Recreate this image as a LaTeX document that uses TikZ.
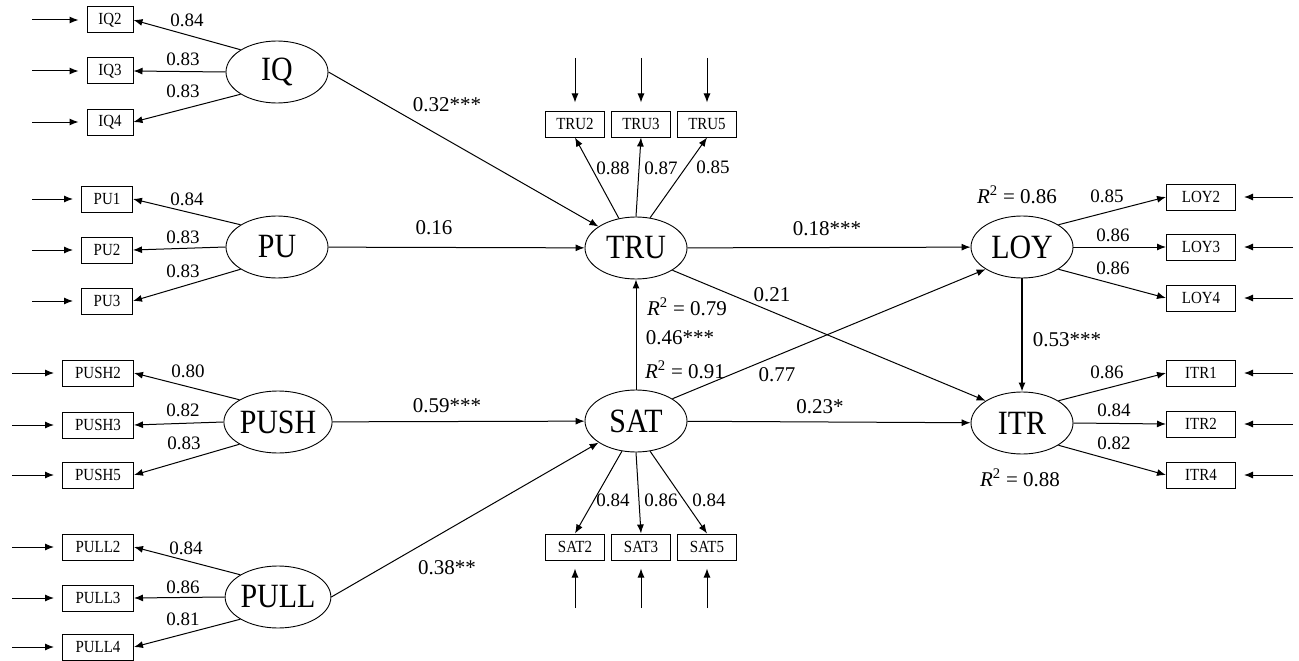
\documentclass[tikz,border=0pt]{standalone}
\usepackage{fontspec}
\setmainfont{Liberation Serif}
\newfontfamily\lat[FakeStretch=0.88]{Liberation Serif}
\usetikzlibrary{shapes.geometric,arrows.meta}
\begin{document}
\begin{tikzpicture}[x=1pt,y=-1pt,
  lv/.style={ellipse,draw,line width=0.9pt,minimum width=102pt,minimum height=62pt,inner sep=0pt,font=\lat\fontsize{34}{34}\selectfont},
  ind/.style={draw,line width=1pt,minimum height=26pt,inner sep=0pt,font=\lat\fontsize{17}{17}\selectfont},
  arr/.style={-{Latex[length=9pt,width=7pt]},line width=1pt},
  inarr/.style={arr,shorten >=8pt},
  ld/.style={font=\fontsize{19}{19}\selectfont},
  pl/.style={font=\fontsize{21}{21}\selectfont},
]
\useasboundingbox (0,0) rectangle (1299,661);

% latent variables
\node[lv] (IQ) at (277,72) {IQ};
\node[lv] (PU) at (277,247) {PU};
\node[lv] (PUSH) at (278,422) {PUSH};
\node[lv] (PULL) at (278,597) {PULL};
\node[lv] (TRU) at (636,248) {TRU};
\node[lv] (SAT) at (636,421) {SAT};
\node[lv] (LOY) at (1022,247) {LOY};
\node[lv] (ITR) at (1022,423) {ITR};

% indicators left
\node[ind,minimum width=46pt] (IQ2) at (110,20) {IQ2};
\node[ind,minimum width=46pt] (IQ3) at (110,71) {IQ3};
\node[ind,minimum width=46pt] (IQ4) at (110,122) {IQ4};
\node[ind,minimum width=51pt] (PU1) at (107,199) {PU1};
\node[ind,minimum width=51pt] (PU2) at (107,250) {PU2};
\node[ind,minimum width=51pt] (PU3) at (107,301) {PU3};
\node[ind,minimum width=71pt] (PUSH2) at (98,373) {PUSH2};
\node[ind,minimum width=71pt] (PUSH3) at (98,425) {PUSH3};
\node[ind,minimum width=71pt] (PUSH5) at (98,475) {PUSH5};
\node[ind,minimum width=71pt] (PULL2) at (98,547) {PULL2};
\node[ind,minimum width=71pt] (PULL3) at (98,598) {PULL3};
\node[ind,minimum width=71pt] (PULL4) at (98,647) {PULL4};
% indicators top/bottom
\node[ind,minimum width=59pt] (TRU2) at (575,124) {TRU2};
\node[ind,minimum width=59pt] (TRU3) at (641,124) {TRU3};
\node[ind,minimum width=59pt] (TRU5) at (707,124) {TRU5};
\node[ind,minimum width=59pt] (SAT2) at (575,547) {SAT2};
\node[ind,minimum width=59pt] (SAT3) at (641,547) {SAT3};
\node[ind,minimum width=59pt] (SAT5) at (707,547) {SAT5};
% indicators right
\node[ind,minimum width=69pt] (LOY2) at (1201,197) {LOY2};
\node[ind,minimum width=69pt] (LOY3) at (1201,247) {LOY3};
\node[ind,minimum width=69pt] (LOY4) at (1201,298) {LOY4};
\node[ind,minimum width=69pt] (ITR1) at (1201,373) {ITR1};
\node[ind,minimum width=69pt] (ITR2) at (1201,424) {ITR2};
\node[ind,minimum width=69pt] (ITR4) at (1201,475) {ITR4};

% error-term start points
\foreach \n/\x in {IQ2/32,IQ3/32,IQ4/32,PU1/32,PU2/32,PU3/32,PUSH2/12,PUSH3/12,PUSH5/12,PULL2/12,PULL3/12,PULL4/12}{
  \coordinate (e\n) at (\x,0 |- \n.west);
  \draw[inarr] (e\n) -- (\n.west);
}
\foreach \n in {LOY2,LOY3,LOY4,ITR1,ITR2,ITR4}{
  \coordinate (e\n) at (1293,0 |- \n.east);
  \draw[inarr] (e\n) -- (\n.east);
}
\foreach \n in {TRU2,TRU3,TRU5}{
  \coordinate (e\n) at (\n.north |- 0,58);
  \draw[inarr] (e\n) -- (\n.north);
}
\foreach \n in {SAT2,SAT3,SAT5}{
  \coordinate (e\n) at (\n.south |- 0,608);
  \draw[inarr] (e\n) -- (\n.south);
}

% loadings
\foreach \l/\a/\b/\c in {IQ/IQ2/IQ3/IQ4,PU/PU1/PU2/PU3,PUSH/PUSH2/PUSH3/PUSH5,PULL/PULL2/PULL3/PULL4}{
  \draw[arr] (\l.north west) -- (\a.east);
  \draw[arr] (\l.west) -- (\b.east);
  \draw[arr] (\l.south west) -- (\c.east);
}
\foreach \l/\a/\b/\c in {LOY/LOY2/LOY3/LOY4,ITR/ITR1/ITR2/ITR4}{
  \draw[arr] (\l.north east) -- (\a.west);
  \draw[arr] (\l.east) -- (\b.west);
  \draw[arr] (\l.south east) -- (\c.west);
}
\draw[arr] (TRU.120) -- (TRU2.south);
\draw[arr] (TRU.north) -- (TRU3.south);
\draw[arr] (TRU.65) -- (TRU5.south);
\draw[arr] (SAT.245) -- (SAT2.north);
\draw[arr] (SAT.south) -- (SAT3.north);
\draw[arr] (SAT.295) -- (SAT5.north);

% structural paths
\draw[arr] (IQ.east) -- (TRU);
\draw[arr] (PU) -- (TRU);
\draw[arr] (PUSH) -- (SAT);
\draw[arr] (PULL.east) -- (SAT);
\draw[arr] (SAT) -- (TRU);
\draw[arr] (TRU) -- (LOY);
\draw[arr] (SAT) -- (ITR);
\draw[arr] (TRU.south east) -- (ITR.north west);
\draw[arr] (SAT.north east) -- (LOY.south west);
\draw[arr,line width=1.3pt] (LOY) -- (ITR);

% loading labels
\node[ld] (tIQ2) at (187,20) {0.84};
\node[ld] (tIQ3) at (183,59) {0.83};
\node[ld] (tIQ4) at (183,91) {0.83};
\node[ld] (tPU1) at (187,199) {0.84};
\node[ld] (tPU2) at (183,237) {0.83};
\node[ld] (tPU3) at (183,271) {0.83};
\node[ld] (tPUSH2) at (188,371) {0.80};
\node[ld] (tPUSH3) at (183,410) {0.82};
\node[ld] (tPUSH5) at (184,443) {0.83};
\node[ld] (tPULL2) at (186,548) {0.84};
\node[ld] (tPULL3) at (183,587) {0.86};
\node[ld] (tPULL4) at (183,619) {0.81};
\node[ld] (tTRU2) at (613,168) {0.88};
\node[ld] (tTRU3) at (661,168) {0.87};
\node[ld] (tTRU5) at (713,167) {0.85};
\node[ld] (tSAT2) at (613,500) {0.84};
\node[ld] (tSAT3) at (661,500) {0.86};
\node[ld] (tSAT5) at (709,500) {0.84};
\node[ld] (tLOY2) at (1107,196) {0.85};
\node[ld] (tLOY3) at (1113,235) {0.86};
\node[ld] (tLOY4) at (1113,268) {0.86};
\node[ld] (tITR1) at (1107,372) {0.86};
\node[ld] (tITR2) at (1114,410) {0.84};
\node[ld] (tITR4) at (1114,443) {0.82};

% path labels
\node[pl] (p1) at (447,105) {0.32***};
\node[pl] (p2) at (434,228) {0.16};
\node[pl] (p3) at (827,229) {0.18***};
\node[pl] (p4) at (772,295) {0.21};
\node[pl] (r1) at (687,307) {\textit{R}\textsuperscript{2} = 0.79};
\node[pl] (p5) at (680,338) {0.46***};
\node[pl] (r2) at (685,370) {\textit{R}\textsuperscript{2} = 0.91};
\node[pl] (p6) at (777,375) {0.77};
\node[pl] (p7) at (820,407) {0.23*};
\node[pl] (p8) at (447,406) {0.59***};
\node[pl] (p9) at (447,568) {0.38**};
\node[pl] (p10) at (1067,340) {0.53***};
\node[pl] (r3) at (1017,195) {\textit{R}\textsuperscript{2} = 0.86};
\node[pl] (r4) at (1020,478) {\textit{R}\textsuperscript{2} = 0.88};
\end{tikzpicture}
\end{document}
